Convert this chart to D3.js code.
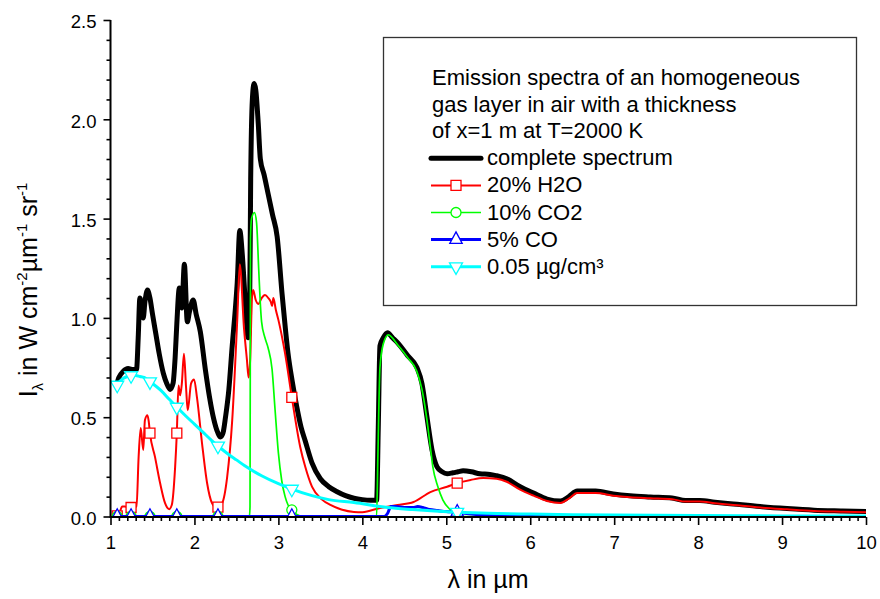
<!DOCTYPE html>
<html><head><meta charset="utf-8">
<script src="https://cdn.jsdelivr.net/npm/d3@7"></script>
<style>
body{margin:0;background:#fff}
svg{display:block}
text{font-family:"Liberation Sans",Arial,sans-serif;fill:#000}
</style>
</head><body>
<svg id="chart" width="880" height="599"></svg>
<script>
// ---- data (wavelength in µm, intensity in W cm^-2 µm^-1 sr^-1) ----
const totalWl=[1.07,1.10,1.15,1.21,1.27,1.31,1.33,1.35,1.37,1.39,1.41,1.44,1.47,1.50,1.54,1.58,1.63,1.67,1.71,1.745,1.77,1.79,1.82,1.85,1.88,1.915,1.94,1.985,2.02,2.07,2.13,2.18,2.23,2.28,2.31,2.34,2.37,2.41,2.45,2.49,2.51,2.54,2.57,2.60,2.64,2.655,2.67,2.69,2.71,2.73,2.76,2.785,2.83,2.88,2.93,2.985,3.044,3.08,3.115,3.165,3.22,3.27,3.32,3.40,3.50,3.60,3.70,3.80,3.90,4.00,4.10,4.17,4.19,4.21,4.25,4.30,4.36,4.42,4.54,4.65,4.71,4.77,4.83,4.89,4.95,5.01,5.08,5.14,5.20,5.30,5.40,5.52,5.60,5.72,5.88,6.04,6.20,6.36,6.46,6.56,6.78,6.99,7.19,7.43,7.69,7.85,8.02,8.20,8.42,8.74,9.06,9.38,9.70,10.0];
const totalI=[0.66,0.70,0.73,0.745,0.74,0.74,0.90,1.10,1.06,1.00,1.08,1.14,1.10,1.02,0.92,0.82,0.72,0.67,0.64,0.67,0.80,0.97,1.15,1.05,1.27,0.98,1.03,1.09,1.02,0.93,0.74,0.60,0.49,0.42,0.40,0.42,0.50,0.64,0.86,1.06,1.18,1.44,1.32,1.12,0.90,0.95,1.70,2.10,2.18,2.15,1.98,1.80,1.72,1.62,1.52,1.41,1.12,0.96,0.82,0.68,0.55,0.45,0.38,0.27,0.19,0.15,0.125,0.105,0.092,0.085,0.082,0.082,0.45,0.86,0.90,0.925,0.90,0.875,0.81,0.75,0.67,0.50,0.335,0.25,0.225,0.215,0.22,0.225,0.23,0.225,0.215,0.212,0.205,0.19,0.15,0.118,0.088,0.078,0.10,0.128,0.128,0.113,0.104,0.098,0.093,0.08,0.08,0.072,0.063,0.05,0.04,0.032,0.028,0.025];

const h2oWl=[1.07,1.10,1.14,1.17,1.24,1.31,1.335,1.36,1.39,1.41,1.44,1.455,1.47,1.53,1.59,1.65,1.70,1.73,1.77,1.79,1.81,1.83,1.85,1.875,1.90,1.92,1.96,1.995,2.03,2.09,2.15,2.21,2.27,2.33,2.39,2.45,2.51,2.54,2.59,2.625,2.645,2.665,2.685,2.70,2.73,2.76,2.80,2.84,2.88,2.91,2.925,2.94,2.97,3.00,3.08,3.16,3.26,3.32,3.40,3.52,3.62,3.75,3.90,4.00,4.21,4.42,4.61,4.81,5.01,5.13,5.29,5.44,5.60,5.72,5.88,6.04,6.20,6.36,6.46,6.56,6.78,6.99,7.19,7.43,7.69,7.85,8.02,8.20,8.42,8.74,9.06,9.38,9.70,10.0];
const h2oI=[0.0,0.01,0.05,0.05,0.045,0.05,0.30,0.445,0.335,0.485,0.51,0.48,0.42,0.30,0.17,0.067,0.037,0.058,0.25,0.42,0.66,0.61,0.67,0.82,0.65,0.535,0.67,0.69,0.60,0.37,0.17,0.067,0.043,0.067,0.20,0.485,0.99,1.27,0.95,0.79,0.70,0.80,1.10,1.14,1.09,1.07,1.10,1.115,1.10,1.08,1.06,1.10,1.04,0.99,0.82,0.60,0.35,0.25,0.15,0.085,0.058,0.035,0.023,0.022,0.043,0.058,0.073,0.123,0.15,0.168,0.184,0.194,0.19,0.175,0.135,0.105,0.078,0.068,0.09,0.118,0.118,0.105,0.097,0.092,0.087,0.075,0.075,0.067,0.058,0.045,0.036,0.028,0.024,0.021];

const co2Wl=[1.07,2.655,2.662,2.668,2.68,2.715,2.74,2.765,2.785,2.80,2.84,2.877,2.925,2.96,3.00,3.04,3.08,3.115,3.16,3.22,3.30,4.17,4.185,4.21,4.25,4.31,4.42,4.54,4.65,4.71,4.77,4.81,4.84,4.90,4.96,5.05,5.13,5.20,10.0];
const co2I=[0,0,0.05,1.40,1.50,1.53,1.48,1.25,1.07,0.98,0.90,0.85,0.74,0.54,0.32,0.18,0.10,0.058,0.033,0.01,0,0,0.30,0.75,0.87,0.915,0.865,0.80,0.73,0.64,0.485,0.35,0.25,0.15,0.083,0.033,0.008,0,0];

const coWl=[1.07,4.26,4.30,4.34,4.40,4.50,4.60,4.66,4.72,4.80,4.90,5.00,5.12,5.30,5.50,6.00,10.0];
const coI=[0,0,0.015,0.05,0.05,0.045,0.045,0.05,0.045,0.035,0.03,0.025,0.022,0.012,0.005,0,0];

const sootWl=[1.07,1.10,1.15,1.20,1.25,1.30,1.35,1.40,1.45,1.50,1.60,1.70,1.78,1.90,2.00,2.10,2.20,2.28,2.40,2.50,2.60,2.80,3.00,3.16,3.40,3.60,3.90,4.30,4.60,5.12,5.50,6.00,6.50,7.00,8.00,9.00,10.0];
const sootI=[0.655,0.675,0.695,0.705,0.71,0.71,0.705,0.70,0.685,0.67,0.635,0.59,0.555,0.505,0.465,0.425,0.385,0.355,0.315,0.285,0.255,0.205,0.165,0.138,0.105,0.085,0.07,0.045,0.035,0.022,0.016,0.012,0.009,0.007,0.005,0.003,0.002];

const markerWl=[1.08,1.245,1.47,1.79,2.28,3.16,5.13];

const xTickValues=[1,2,3,4,5,6,7,8,9,10];
const yTickValues=[0,0.5,1.0,1.5,2.0,2.5];
const yTickLabels=["0.0","0.5","1.0","1.5","2.0","2.5"];
const legendTitle=["Emission spectra of an homogeneous","gas layer in air with a thickness","of x=1 m at T=2000 K"];
const seriesNames=["complete spectrum","20% H2O","10% CO2","5% CO","0.05 µg/cm³"];

// ---- drawing ----
const svg=d3.select("#chart");
const x=d3.scaleLinear().domain([1,10]).range([110.5,866]);
const y=d3.scaleLinear().domain([0,2.5]).range([516.5,20]);

const series=[
  {wl:totalWl,v:totalI,color:"#000000",w:5,marker:null,name:seriesNames[0]},
  {wl:h2oWl,v:h2oI,color:"#ff0000",w:2,marker:"square",name:seriesNames[1]},
  {wl:co2Wl,v:co2I,color:"#00ff00",w:1.7,marker:"circle",name:seriesNames[2]},
  {wl:coWl,v:coI,color:"#0000ff",w:3,marker:"up",name:seriesNames[3]},
  {wl:sootWl,v:sootI,color:"#00ffff",w:3,marker:"down",name:seriesNames[4]}
];

function markerPath(type){
  if(type==="square") return "M-5,-5H5V5H-5Z";
  if(type==="circle") return "M5,0A5,5 0 1,1 -5,0A5,5 0 1,1 5,0Z";
  if(type==="up") return "M0,-7.7L6.2,3.85L-6.2,3.85Z";
  if(type==="down") return "M0,7.7L6.5,-3.85L-6.5,-3.85Z";
  return "";
}
function interp(wl,v,t){
  for(let i=0;i<wl.length-1;i++){
    if(t>=wl[i]&&t<=wl[i+1]){const f=(t-wl[i])/(wl[i+1]-wl[i]);return v[i]+f*(v[i+1]-v[i]);}
  }
  return 0;
}

svg.append("defs").append("clipPath").attr("id","plotclip")
  .append("rect").attr("x",110.5).attr("y",0).attr("width",866-110.5).attr("height",516.5);

const plot=svg.append("g").attr("clip-path","url(#plotclip)");
const line=d3.line().curve(d3.curveMonotoneX);

series.forEach(s=>{
  const pts=s.wl.map((w,i)=>[x(w),y(s.v[i])]);
  plot.append("path").attr("d",line(pts)).attr("fill","none")
    .attr("stroke",s.color).attr("stroke-width",s.w)
    .attr("stroke-linejoin","round").attr("stroke-linecap","round");
  if(s.marker){
    plot.selectAll(null).data(markerWl).enter().append("path")
      .attr("transform",d=>`translate(${x(d)},${y(interp(s.wl,s.v,d))})`)
      .attr("d",markerPath(s.marker)).attr("fill","#fff")
      .attr("stroke",s.color).attr("stroke-width",1.3);
  }
});

// axes
const fmt=d=>yTickLabels[yTickValues.indexOf(d)];
const xMinor=d3.range(1,10.001,0.1).map(d=>+d.toFixed(1)).filter(d=>Math.abs(d-Math.round(d))>1e-6);
const yMinor=d3.range(0,2.5001,0.1).map(d=>+d.toFixed(1)).filter(d=>Math.abs(d*2-Math.round(d*2))>1e-6);

const gx=svg.append("g").attr("transform","translate(0,517)");
gx.call(d3.axisBottom(x).tickValues(xMinor).tickSize(4).tickSizeOuter(0).tickFormat(""));
gx.call(g=>g.select(".domain").remove());
const gx2=svg.append("g").attr("transform","translate(0,517)");
gx2.call(d3.axisBottom(x).tickValues(xTickValues).tickSize(8).tickSizeOuter(0).tickPadding(11).tickFormat(d3.format("d")));
gx2.select(".domain").attr("stroke-width",2).attr("d","M110.5,0H866");

const gy=svg.append("g").attr("transform","translate(110.5,0)");
gy.call(d3.axisLeft(y).tickValues(yMinor).tickSize(4).tickSizeOuter(0).tickFormat(""));
gy.call(g=>g.select(".domain").remove());
const gy2=svg.append("g").attr("transform","translate(110.5,0)");
gy2.call(d3.axisLeft(y).tickValues(yTickValues).tickSize(7).tickSizeOuter(0).tickPadding(7).tickFormat(fmt));
gy2.select(".domain").attr("stroke-width",2).attr("d","M0,20V518");

svg.selectAll(".tick line").attr("stroke-width",1.6).attr("stroke","#000");
svg.selectAll(".tick text").attr("font-size",18.5).attr("font-family","Liberation Sans, Arial, sans-serif").attr("fill","#000");
gy2.selectAll(".tick text").attr("dy","0.42em");

// axis titles
svg.append("text").attr("x",488).attr("y",588).attr("text-anchor","middle")
  .attr("font-size",25).text("λ in µm");

const yt=svg.append("text").attr("transform","translate(37,290) rotate(-90)")
  .attr("text-anchor","middle").attr("font-size",25);
yt.append("tspan").text("I");
yt.append("tspan").attr("font-size",15).attr("dy",6).text("λ");
yt.append("tspan").attr("dy",-6).text(" in W cm");
yt.append("tspan").attr("font-size",15).attr("dy",-10).text("-2");
yt.append("tspan").attr("dy",10).text("µm");
yt.append("tspan").attr("font-size",15).attr("dy",-10).text("-1");
yt.append("tspan").attr("dy",10).text(" sr");
yt.append("tspan").attr("font-size",15).attr("dy",-10).text("-1");

// legend
const lg=svg.append("g");
lg.append("rect").attr("x",383.5).attr("y",37.5).attr("width",473).attr("height",268)
  .attr("fill","#fff").attr("stroke","#333").attr("stroke-width",1.3);
legendTitle.forEach((t,i)=>{
  lg.append("text").attr("x",432).attr("y",85+i*26.7).attr("font-size",22).text(t);
});
series.forEach((s,i)=>{
  const yy=158.3+i*27.1;
  lg.append("line").attr("x1",431).attr("x2",481).attr("y1",yy).attr("y2",yy)
    .attr("stroke",s.color).attr("stroke-width",s.w).attr("stroke-linecap",i===0?"round":"butt");
  if(s.marker){
    lg.append("path").attr("transform",`translate(456,${yy})`).attr("d",markerPath(s.marker))
      .attr("fill","#fff").attr("stroke",s.color).attr("stroke-width",1.3);
  }
  lg.append("text").attr("x",487).attr("y",yy+7).attr("font-size",22).text(s.name);
});
</script>
</body></html>
